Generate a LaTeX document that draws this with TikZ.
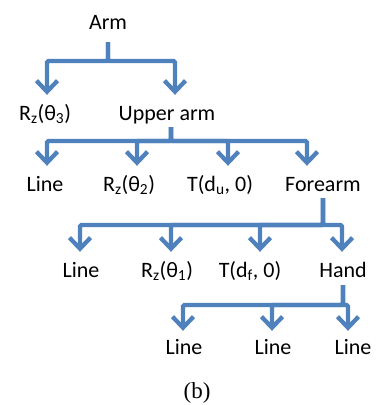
\documentclass[tikz,border=0pt]{standalone}
\usepackage{fontspec}
\setmainfont{Carlito}
\newfontfamily\capfont{Liberation Serif}
\usetikzlibrary{arrows.meta}
\definecolor{linkblue}{RGB}{79,129,189}
\tikzset{
  lbl/.style={anchor=base, inner sep=0pt, font=\fontsize{22}{26}\selectfont,
              text height=15pt, text depth=5pt},
  conn/.style={draw=linkblue, line width=4.3pt, rounded corners=1.5pt,
               -{Straight Barb[length=11pt,width=21pt]}},
}
\begin{document}
\begin{tikzpicture}[x=1pt,y=-1pt]
\useasboundingbox (0,0) rectangle (376,405);

% labels (baseline positions)
\node[lbl] (arm)    at (108,29)  {Arm};
\node[lbl] (rz3)    at (45,120)  {R\textsubscript{z}(θ\textsubscript{3})};
\node[lbl] (upper)  at (167,120) {Upper arm};
\node[lbl] (line1)  at (45,191)  {Line};
\node[lbl] (rz2)    at (129,191) {R\textsubscript{z}(θ\textsubscript{2})};
\node[lbl] (tdu)    at (220,191) {T(d\textsubscript{u}, 0)};
\node[lbl] (fore)   at (323,191) {Forearm};
\node[lbl] (line2)  at (81,277)  {Line};
\node[lbl] (rz1)    at (167,277) {R\textsubscript{z}(θ\textsubscript{1})};
\node[lbl] (tdf)    at (250,277) {T(d\textsubscript{f}, 0)};
\node[lbl] (hand)   at (343,277) {Hand};
\node[lbl] (line3a) at (184,354) {Line};
\node[lbl] (line3b) at (273,354) {Line};
\node[lbl] (line3c) at (353,354) {Line};
\node[anchor=base, inner sep=0pt, font=\capfont\fontsize{23}{27}\selectfont] (cap) at (197,398) {(b)};

% heights of the horizontal bars
\coordinate (bar0) at (0,61);
\coordinate (bar1) at (0,141);
\coordinate (bar2) at (0,225);
\coordinate (bar3) at (0,305);

% Arm
\coordinate (s0) at ([yshift=-8pt]arm.south);
\draw[conn] (s0) -- (s0 |- bar0) -| ([xshift=2pt,yshift=10pt]rz3.north);
\draw[conn] (s0) -- (s0 |- bar0) -| ([xshift=8pt,yshift=10pt]upper.north);

% Upper arm
\coordinate (s1) at ([xshift=4pt,yshift=-2pt]upper.south);
\draw[conn] (s1) -- (s1 |- bar1) -| ([xshift=2pt,yshift=10pt]line1.north);
\draw[conn] (s1) -- (s1 |- bar1) -| ([xshift=8pt,yshift=10pt]rz2.north);
\draw[conn] (s1) -- (s1 |- bar1) -| ([xshift=8pt,yshift=10pt]tdu.north);
\draw[conn] (s1) -- (s1 |- bar1) -| ([xshift=-16pt,yshift=10pt]fore.north);

% Forearm
\coordinate (s2) at ([yshift=-2pt]fore.south);
\draw[conn] (s2) -- (s2 |- bar2) -| ([xshift=-1pt,yshift=10pt]line2.north);
\draw[conn] (s2) -- (s2 |- bar2) -| ([xshift=4pt,yshift=10pt]rz1.north);
\draw[conn] (s2) -- (s2 |- bar2) -| ([xshift=10pt,yshift=10pt]tdf.north);
\draw[conn] (s2) -- (s2 |- bar2) -| ([xshift=-1pt,yshift=10pt]hand.north);

% Hand
\coordinate (s3) at ([yshift=-3pt]hand.south);
\draw[conn] (s3) -- (s3 |- bar3) -| ([xshift=-1pt,yshift=8pt]line3a.north);
\draw[conn] (s3) -- (s3 |- bar3) -| ([xshift=-1pt,yshift=8pt]line3b.north);
\draw[conn] (s3) -- (s3 |- bar3) -| ([xshift=-5pt,yshift=8pt]line3c.north);
\end{tikzpicture}
\end{document}
